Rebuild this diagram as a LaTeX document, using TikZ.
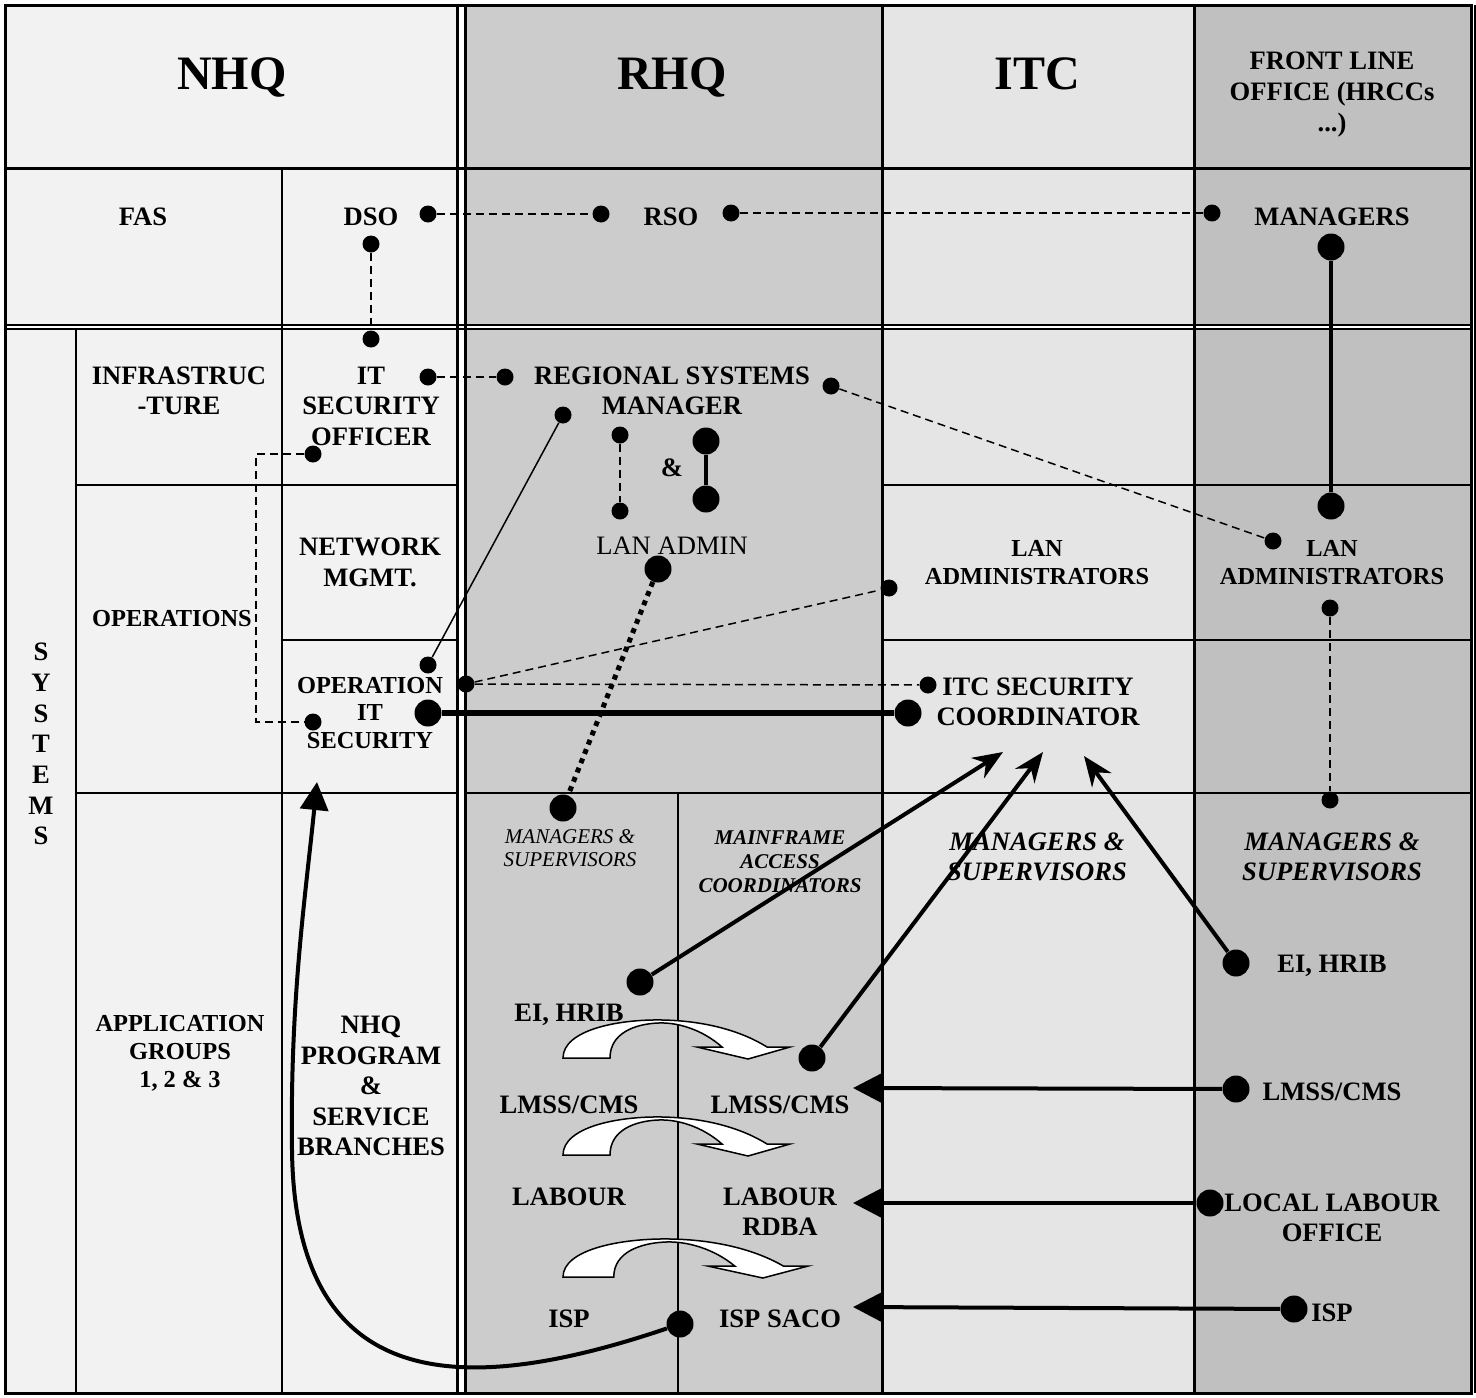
\documentclass[tikz,border=0pt]{standalone}
\usepackage{fontspec}
\setmainfont{Liberation Serif}
\usetikzlibrary{arrows.meta}

\definecolor{nhqgray}{HTML}{F2F2F2}
\definecolor{rhqgray}{HTML}{CCCCCC}
\definecolor{itcgray}{HTML}{E5E5E5}
\definecolor{flogray}{HTML}{C0C0C0}

% white curved block arrow: #1,#2 = left foot, #3 = horizontal stretch
\newcommand{\bendarrow}[3]{%
  \draw[line width=0.75pt, fill=white, shift={(#1,#2)}, xscale=#3]
    (0,0) .. controls (0,-28) and (55,-39) .. (100,-38)
    .. controls (145,-37) and (180,-26) .. (204,-11)
    -- (227,-11) -- (185,1) -- (134,-11) -- (159,-11)
    .. controls (140,-28) and (115,-36) .. (95,-35)
    .. controls (72,-34) and (47,-25) .. (47,0) -- cycle;}

\begin{document}
\begin{tikzpicture}[x=0.5pt, y=-0.5pt,
  hdr/.style={font=\fontsize{24}{28}\selectfont\bfseries, inner sep=0pt},
  lbl/.style={font=\fontsize{13.3}{#1}\selectfont\bfseries, align=center, inner sep=0pt},
  lbl/.default=15,
  lblsm/.style={font=\fontsize{12.2}{#1}\selectfont\bfseries, align=center, inner sep=0pt},
  lblsm/.default=14,
  regtext/.style={font=\fontsize{13.3}{15}\selectfont, inner sep=0pt},
  smallit/.style={font=\fontsize{10.5}{11.5}\selectfont\itshape, align=center, inner sep=0pt},
  smallbi/.style={font=\fontsize{10.5}{12}\selectfont\bfseries\itshape, align=center, inner sep=0pt},
  bigbi/.style={font=\fontsize{13.3}{15}\selectfont\bfseries\itshape, align=center, inner sep=0pt},
  smalldot/.style={circle, fill, inner sep=0pt, minimum size=8.5pt},
  bigdot/.style={circle, fill, inner sep=0pt, minimum size=13.5pt},
  thinrule/.style={line width=1pt},
  thickrule/.style={line width=1.5pt},
  dashlink/.style={line width=0.75pt, dash pattern=on 4pt off 2.5pt},
  dotlink/.style={line width=2.5pt, dash pattern=on 2.5pt off 2.5pt},
  thinlink/.style={line width=0.75pt},
  boldlink/.style={line width=2pt},
  stealthlink/.style={line width=2pt, -{Stealth[length=15pt, width=12pt]}},
  trilink/.style={line width=2pt, -{Triangle[length=14pt, width=14pt]}},
]
\useasboundingbox (0,0) rectangle (1476,1397);

% column backgrounds
\fill[nhqgray] (5,5) rectangle (461,1393);
\fill[rhqgray] (461,5) rectangle (882,1393);
\fill[itcgray] (882,5) rectangle (1194,1393);
\fill[flogray] (1194,5) rectangle (1471,1393);
\fill[white] (457,5) rectangle (465,1393);
\fill[white] (5,325) rectangle (1471,329);

% table rules
\draw[thickrule] (5,5) rectangle (1471,1393);
\draw[thinrule] (1474.5,5) -- (1474.5,1393);
\draw[thickrule] (5,168) -- (1471,168);
\draw[thinrule] (5,325) -- (1471,325);
\draw[thinrule] (5,329) -- (1471,329);
\draw[thickrule] (457,5) -- (457,1393);
\draw[thickrule] (465,5) -- (465,1393);
\draw[thickrule] (882,5) -- (882,1393);
\draw[thickrule] (1194,5) -- (1194,1393);
\draw[thinrule] (282,168) -- (282,1393);
\draw[thinrule] (76,329) -- (76,1393);
\draw[thinrule] (76,485) -- (457,485);
\draw[thinrule] (882,485) -- (1471,485);
\draw[thinrule] (282,640) -- (457,640);
\draw[thinrule] (882,640) -- (1471,640);
\draw[thinrule] (76,793) -- (457,793);
\draw[thinrule] (465,793) -- (1471,793);
\draw[line width=0.6pt] (678,793) -- (678,1393);

% hand-over arrows in RHQ
\bendarrow{563}{1058}{1}
\bendarrow{563}{1155}{1}
\bendarrow{563}{1277}{1.08}

% headings and cell texts
\node[hdr, anchor=base] (nhq) at (232,89) {NHQ};
\node[hdr, anchor=base] (rhq) at (672,89) {RHQ};
\node[hdr, anchor=base] (itc) at (1037,89) {ITC};
\node[lbl=15.5, anchor=north] (flo) at (1332,51) {FRONT LINE\\OFFICE (HRCCs\\...)};

\node[lbl] (fas) at (143,217) {FAS};
\node[lbl] (dso) at (371,217) {DSO};
\node[lbl] (rso) at (671,217) {RSO};
\node[lbl] (mgr) at (1332,217) {MANAGERS};

\node[lbl] (infra) at (179,391) {INFRASTRUC\\-TURE};
\node[lbl=15.25] (itso) at (371,406) {IT\\SECURITY\\OFFICER};
\node[lbl] (rsm) at (672,391) {REGIONAL SYSTEMS\\MANAGER};
\node[lbl] (amp) at (672,468) {\&};
\node[regtext] (lanadmin) at (672,546) {LAN ADMIN};
\node[lbl=15.5] (netm) at (370,562) {NETWORK\\MGMT.};
\node[lblsm] (ops) at (172,619) {OPERATIONS};
\node[lbl=15.33] (sys) at (41,744) {S\\Y\\S\\T\\E\\M\\S};
\node[lblsm] (itclan) at (1037,563) {LAN\\ADMINISTRATORS};
\node[lblsm] (flolan) at (1332,563) {LAN\\ADMINISTRATORS};
\node[lblsm=13.75] (opits) at (370,713) {OPERATION\\IT\\SECURITY};
\node[lbl] (itcsec) at (1038,702) {ITC SECURITY\\COORDINATOR};

\node[smallit] (rmgrs) at (570,848) {MANAGERS \&\\SUPERVISORS};
\node[smallbi] (mac) at (780,862) {MAINFRAME\\ACCESS\\COORDINATORS};
\node[bigbi] (itcmgrs) at (1037,857) {MANAGERS \&\\SUPERVISORS};
\node[bigbi] (flomgrs) at (1332,857) {MANAGERS \&\\SUPERVISORS};

\node[lblsm] (appgrp) at (180,1053) {APPLICATION\\GROUPS\\1, 2 \& 3};
\node[lbl=15.25] (nhqprog) at (371,1086) {NHQ\\PROGRAM\\\&\\SERVICE\\BRANCHES};
\node[lbl, anchor=base] (reihrib) at (569,1021) {EI, HRIB};
\node[lbl, anchor=base] (feihrib) at (1332,972) {EI, HRIB};
\node[lbl] (rlmss) at (569,1105) {LMSS/CMS};
\node[lbl] (mlmss) at (780,1105) {LMSS/CMS};
\node[lbl] (flmss) at (1332,1092) {LMSS/CMS};
\node[lbl] (rlabour) at (569,1197) {LABOUR};
\node[lbl] (mlabour) at (780,1212) {LABOUR\\RDBA};
\node[lbl] (llo) at (1332,1218) {LOCAL LABOUR\\OFFICE};
\node[lbl] (risp) at (569,1319) {ISP};
\node[lbl] (saco) at (780,1319) {ISP SACO};
\node[lbl] (fisp) at (1332,1313) {ISP};

% link points
\node[smalldot] (dsoR) at (428,214) {};
\node[smalldot] (rsoL) at (601,214) {};
\node[smalldot] (rsoR) at (731,213) {};
\node[smalldot] (mgrL) at (1212,213) {};
\node[smalldot] (dsoB) at (371,244) {};
\node[smalldot] (itsoT) at (371,339) {};
\node[smalldot] (itsoR) at (428,377) {};
\node[smalldot] (rsmL) at (505,377) {};
\node[smalldot] (rsmR) at (831,386) {};
\node[smalldot] (rsmB) at (563,415) {};
\node[smalldot] (keyA) at (620,435) {};
\node[smalldot] (keyB) at (620,511) {};
\node[smalldot] (itsoB) at (313,454) {};
\node[smalldot] (flanL) at (1273,541) {};
\node[smalldot] (itclanL) at (889,588) {};
\node[smalldot] (flanB) at (1330,608) {};
\node[smalldot] (opT) at (428,665) {};
\node[smalldot] (opR) at (466,684) {};
\node[smalldot] (itcsL) at (928,685) {};
\node[smalldot] (opB) at (313,722) {};
\node[smalldot] (fmgrT) at (1330,800) {};

\node[bigdot] (mgrB) at (1331,247) {};
\node[bigdot] (flanT) at (1331,506) {};
\node[bigdot] (keyC) at (706,441) {};
\node[bigdot] (keyD) at (706,499) {};
\node[bigdot] (lanadm) at (658,569) {};
\node[bigdot] (opS) at (428,713) {};
\node[bigdot] (itcsS) at (908,713) {};
\node[bigdot] (rmgr) at (563,808) {};
\node[bigdot] (eiR) at (640,982) {};
\node[bigdot] (lmssR) at (812,1058) {};
\node[bigdot] (eiF) at (1236,963) {};
\node[bigdot] (lmssF) at (1236,1089) {};
\node[bigdot] (lloD) at (1210,1203) {};
\node[bigdot] (ispF) at (1294,1309) {};
\node[bigdot] (ispR) at (680,1324) {};

\coordinate (tip1) at (1003,752);
\coordinate (tip2) at (1043,752);
\coordinate (tip3) at (1084,756);
\coordinate (tipL) at (853,1088);
\coordinate (tipLL) at (853,1203);
\coordinate (tipI) at (853,1307);
\coordinate (tipN) at (317,782);

% links
\draw[dashlink] (dsoR) -- (rsoL);
\draw[dashlink] (rsoR) -- (mgrL);
\draw[dashlink] (dsoB) -- (itsoT);
\draw[dashlink] (itsoR) -- (rsmL);
\draw[dashlink] (rsmR) -- (flanL);
\draw[dashlink] (keyA) -- (keyB);
\draw[dashlink] (itsoB) -- ++(-57,0) |- (opB);
\draw[dashlink] (opR) -- (itclanL);
\draw[dashlink] (opR) -- (itcsL);
\draw[dashlink] (flanB) -- (fmgrT);
\draw[thinlink] (rsmB) -- (opT);
\draw[boldlink] (mgrB) -- (flanT);
\draw[boldlink] (keyC) -- (keyD);
\draw[line width=3pt] (opS) -- (itcsS);
\draw[dotlink] (lanadm) -- (rmgr);

\draw[stealthlink] (eiR) -- (tip1);
\draw[stealthlink] (lmssR) -- (tip2);
\draw[stealthlink] (eiF) -- (tip3);
\draw[trilink] (lmssF) -- (tipL);
\draw[trilink] (lloD) -- (tipLL);
\draw[trilink] (ispF) -- (tipI);
\draw[trilink] (ispR) .. controls (470,1395) and (295,1400) .. (292,1150)
  .. controls (290,1000) and (305,900) .. (tipN);
\end{tikzpicture}
\end{document}
